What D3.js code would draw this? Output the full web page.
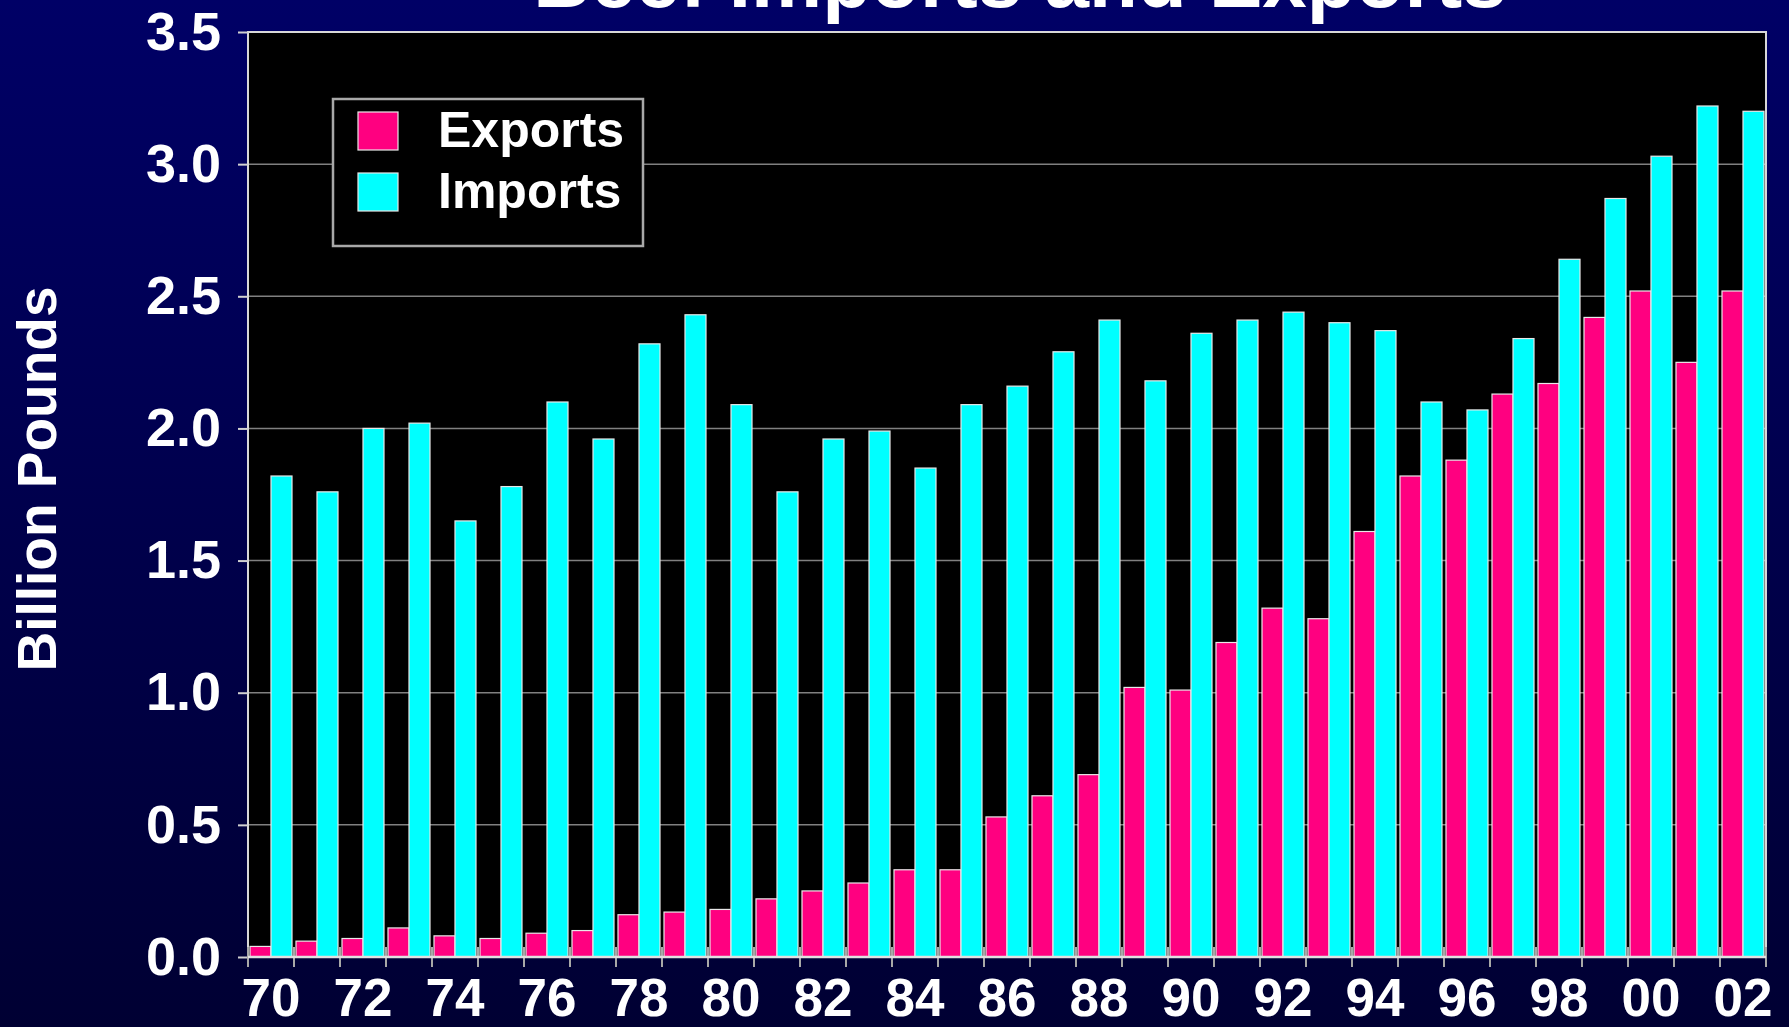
<!DOCTYPE html>
<meta charset="utf-8">
<head>
<style>
body { margin: 0; background: #000044; }
text { font-family: 'Liberation Sans', Arial, sans-serif; font-weight: bold; fill: white; }
</style>
<script src="https://d3js.org/d3.v7.min.js"></script>
</head>
<body>
<svg id="chart"></svg>
<script>

// data
var years = d3.range(1970, 2003)
var yearLabels = ["70","71","72","73","74","75","76","77","78","79","80","81","82","83","84","85","86","87","88","89","90","91","92","93","94","95","96","97","98","99","00","01","02"]
var exportsVals = [0.04,0.06,0.07,0.11,0.08,0.07,0.09,0.10,0.16,0.17,0.18,0.22,0.25,0.28,0.33,0.33,0.53,0.61,0.69,1.02,1.01,1.19,1.32,1.28,1.61,1.82,1.88,2.13,2.17,2.42,2.52,2.25,2.52]
var importsVals = [1.82,1.76,2.00,2.02,1.65,1.78,2.10,1.96,2.32,2.43,2.09,1.76,1.96,1.99,1.85,2.09,2.16,2.29,2.41,2.18,2.36,2.41,2.44,2.40,2.37,2.10,2.07,2.34,2.64,2.87,3.03,3.22,3.20]
var series = ["Exports", "Imports"]
var colors = ["#ff0080", "#00ffff"]
var yTicks = [0, 0.5, 1.0, 1.5, 2.0, 2.5, 3.0, 3.5]

var width = 1789, height = 1027
var margin = {top: 32, right: 23, bottom: 70, left: 248}
var w = width - margin.left - margin.right
var h = height - margin.top - margin.bottom

var svg = d3.select('#chart').attr('width', width).attr('height', height)

// background gradient
var grad = svg.append('defs').append('linearGradient')
  .attr('id', 'bg').attr('x1', 0).attr('y1', 0).attr('x2', 0).attr('y2', 1)
grad.append('stop').attr('offset', '0%').attr('stop-color', '#000066')
grad.append('stop').attr('offset', '100%').attr('stop-color', '#000033')
svg.append('rect').attr('width', width).attr('height', height).attr('fill', 'url(#bg)')

var g = svg.append('g').attr('transform', 'translate(' + margin.left + ',' + margin.top + ')')

var x = d3.scaleBand().domain(years).range([0, w]).padding(0)
var x1 = d3.scaleBand().domain(series).range([2, x.bandwidth() - 2]).padding(0)
var y = d3.scaleLinear().domain([0, 3.5]).range([h, 0])

// plot area
g.append('rect').attr('width', w).attr('height', h).attr('fill', '#000')

// gridlines
g.selectAll('.grid').data(yTicks.slice(1, -1)).enter().append('line')
  .attr('x1', 0).attr('x2', w)
  .attr('y1', d => y(d)).attr('y2', d => y(d))
  .attr('stroke', '#808080').attr('stroke-width', 1.5)

// bars
var rows = years.map((yr, i) => ({year: yr, vals: [exportsVals[i], importsVals[i]]}))
var grp = g.selectAll('.yr').data(rows).enter().append('g')
  .attr('transform', d => 'translate(' + x(d.year) + ',0)')
grp.selectAll('rect').data(d => d.vals.map((v, k) => ({key: series[k], v: v, c: colors[k]})))
  .enter().append('rect')
  .attr('x', d => x1(d.key))
  .attr('width', x1.bandwidth())
  .attr('y', d => y(d.v))
  .attr('height', d => h - y(d.v))
  .attr('fill', d => d.c)
  .attr('stroke', '#e8e8e8').attr('stroke-width', 1.2)

// frame
g.append('rect').attr('width', w).attr('height', h)
  .attr('fill', 'none').attr('stroke', '#d8d8d8').attr('stroke-width', 2)

// y axis
var yAxis = g.append('g')
  .call(d3.axisLeft(y).tickValues(yTicks).tickFormat(d3.format('.1f')).tickSize(10).tickPadding(17))
yAxis.select('.domain').remove()
yAxis.selectAll('.tick line').attr('stroke', '#d0d0d0').attr('stroke-width', 2)
yAxis.selectAll('.tick text').style('font-size', '54px').attr('fill', 'white')

// x axis: boundary ticks
var bounds = years.map(yr => x(yr)).concat([w])
g.selectAll('.xt').data(bounds).enter().append('line')
  .attr('x1', d => d).attr('x2', d => d)
  .attr('y1', h - 10).attr('y2', h + 10)
  .attr('stroke', '#a8a8a8').attr('stroke-width', 2)
g.append('line').attr('x1', 0).attr('x2', w).attr('y1', h).attr('y2', h)
  .attr('stroke', '#e0e0e0').attr('stroke-width', 2.5)

var xAxis = g.append('g').attr('transform', 'translate(0,' + h + ')')
  .call(d3.axisBottom(x).tickValues(years.filter(yr => yr % 2 === 0))
    .tickFormat(yr => yearLabels[yr - 1970]).tickSize(0).tickPadding(21))
xAxis.select('.domain').remove()
xAxis.selectAll('.tick text').style('font-size', '53px').attr('fill', 'white')

// axis title
svg.append('text')
  .attr('transform', 'translate(56,479) rotate(-90)')
  .attr('text-anchor', 'middle')
  .style('font-size', '55px')
  .text('Billion Pounds')

// title (cut off at top in the original)
svg.append('text')
  .attr('x', 1020).attr('y', 7)
  .attr('text-anchor', 'middle')
  .style('font-size', '80px')
  .text('Beef Imports and Exports')

// legend
var lg = svg.append('g').attr('transform', 'translate(333,99)')
lg.append('rect').attr('width', 310).attr('height', 147)
  .attr('fill', '#000').attr('stroke', '#a8a8a8').attr('stroke-width', 2.5)
var item = lg.selectAll('.item').data(series).enter().append('g')
  .attr('transform', (d, i) => 'translate(25,' + (13 + i * 61) + ')')
item.append('rect').attr('width', 40).attr('height', 38)
  .attr('fill', (d, i) => colors[i]).attr('stroke', '#e8e8e8').attr('stroke-width', 1.2)
item.append('text').attr('x', 80).attr('y', 35)
  .style('font-size', '50px')
  .text(d => d)

</script>
</body>
